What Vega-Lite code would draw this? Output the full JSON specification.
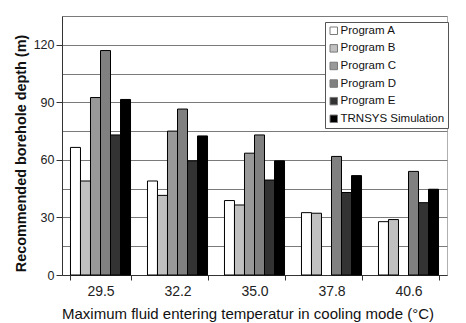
{
  "$schema": "https://vega.github.io/schema/vega-lite/v6.json",
  "width": 385,
  "height": 259,
  "autosize": {"type": "none"},
  "padding": {"left": 62, "top": 16, "right": 19, "bottom": 48},
  "background": "white",
  "data": {
    "values": [
      {"temp": "29.5", "source": "Program A", "depth": 66.5},
      {"temp": "29.5", "source": "Program B", "depth": 49},
      {"temp": "29.5", "source": "Program C", "depth": 92.5},
      {"temp": "29.5", "source": "Program D", "depth": 117},
      {"temp": "29.5", "source": "Program E", "depth": 73},
      {"temp": "29.5", "source": "TRNSYS Simulation", "depth": 91.5},
      {"temp": "32.2", "source": "Program A", "depth": 49},
      {"temp": "32.2", "source": "Program B", "depth": 41.5},
      {"temp": "32.2", "source": "Program C", "depth": 75},
      {"temp": "32.2", "source": "Program D", "depth": 86.5},
      {"temp": "32.2", "source": "Program E", "depth": 59.5},
      {"temp": "32.2", "source": "TRNSYS Simulation", "depth": 72.5},
      {"temp": "35.0", "source": "Program A", "depth": 38.8},
      {"temp": "35.0", "source": "Program B", "depth": 36.5},
      {"temp": "35.0", "source": "Program C", "depth": 63.5},
      {"temp": "35.0", "source": "Program D", "depth": 73},
      {"temp": "35.0", "source": "Program E", "depth": 49.5},
      {"temp": "35.0", "source": "TRNSYS Simulation", "depth": 59.5},
      {"temp": "37.8", "source": "Program A", "depth": 32.5},
      {"temp": "37.8", "source": "Program B", "depth": 32.2},
      {"temp": "37.8", "source": "Program D", "depth": 61.8},
      {"temp": "37.8", "source": "Program E", "depth": 43},
      {"temp": "37.8", "source": "TRNSYS Simulation", "depth": 51.8},
      {"temp": "40.6", "source": "Program A", "depth": 27.8},
      {"temp": "40.6", "source": "Program B", "depth": 28.9},
      {"temp": "40.6", "source": "Program D", "depth": 54},
      {"temp": "40.6", "source": "Program E", "depth": 37.7},
      {"temp": "40.6", "source": "TRNSYS Simulation", "depth": 44.7}
    ]
  },
  "mark": {"type": "bar", "stroke": "#000000", "strokeWidth": 1},
  "encoding": {
    "x": {
      "field": "temp",
      "type": "nominal",
      "sort": ["29.5", "32.2", "35.0", "37.8", "40.6"],
      "scale": {"paddingInner": 0.22, "paddingOuter": 0.11},
      "axis": {
        "title": "Maximum fluid entering temperatur in cooling mode (°C)",
        "titleX": 185.5,
        "labelAngle": 0,
        "tickBand": "extent",
        "labelFont": "Liberation Sans",
        "labelFontSize": 14,
        "labelColor": "#222222",
        "labelPadding": 4,
        "titleFont": "Liberation Sans",
        "titleFontSize": 15,
        "titleFontWeight": "normal",
        "titleColor": "#111111",
        "titlePadding": 8,
        "domainColor": "#333333",
        "tickColor": "#333333",
        "tickSize": 5,
        "grid": false
      }
    },
    "xOffset": {
      "field": "source",
      "type": "nominal",
      "sort": ["Program A", "Program B", "Program C", "Program D", "Program E", "TRNSYS Simulation"],
      "scale": {"domain": ["Program A", "Program B", "Program C", "Program D", "Program E", "TRNSYS Simulation"], "paddingInner": 0, "paddingOuter": 0}
    },
    "y": {
      "field": "depth",
      "type": "quantitative",
      "scale": {"domain": [0, 135], "nice": false},
      "axis": {
        "title": "Recommended borehole depth (m)",
        "titleY": 137,
        "values": [0, 15, 30, 45, 60, 75, 90, 105, 120, 135],
        "labelExpr": "datum.value % 30 == 0 ? datum.label : ''",
        "tickOpacity": {"condition": {"test": "datum.value % 30 != 0", "value": 0}, "value": 1},
        "grid": true,
        "gridColor": "#7a7a7a",
        "gridWidth": 1,
        "labelFont": "Liberation Sans",
        "labelFontSize": 12.5,
        "labelColor": "#222222",
        "labelPadding": 2,
        "titleFont": "Liberation Sans",
        "titleFontSize": 14.4,
        "titleFontWeight": "bold",
        "titleColor": "#111111",
        "titlePadding": 5,
        "domainColor": "#333333",
        "tickColor": "#333333",
        "tickSize": 6
      }
    },
    "fill": {
      "field": "source",
      "type": "nominal",
      "scale": {
        "domain": ["Program A", "Program B", "Program C", "Program D", "Program E", "TRNSYS Simulation"],
        "range": ["#ffffff", "#c0c0c0", "#999999", "#808080", "#333333", "#000000"]
      },
      "legend": {
        "title": null,
        "orient": "none",
        "legendX": 263,
        "legendY": 6,
        "symbolType": "square",
        "symbolSize": 56,
        "symbolStrokeColor": "#7a7a7a",
        "symbolStrokeWidth": 1,
        "labelFont": "Liberation Sans",
        "labelFontSize": 11.5,
        "labelColor": "#111111",
        "labelOffset": 1,
        "rowPadding": 4.6,
        "padding": 3,
        "strokeColor": "#555555",
        "fillColor": "#ffffff"
      }
    }
  },
  "config": {
    "view": {"stroke": "#b0b0b0", "strokeWidth": 1}
  }
}
